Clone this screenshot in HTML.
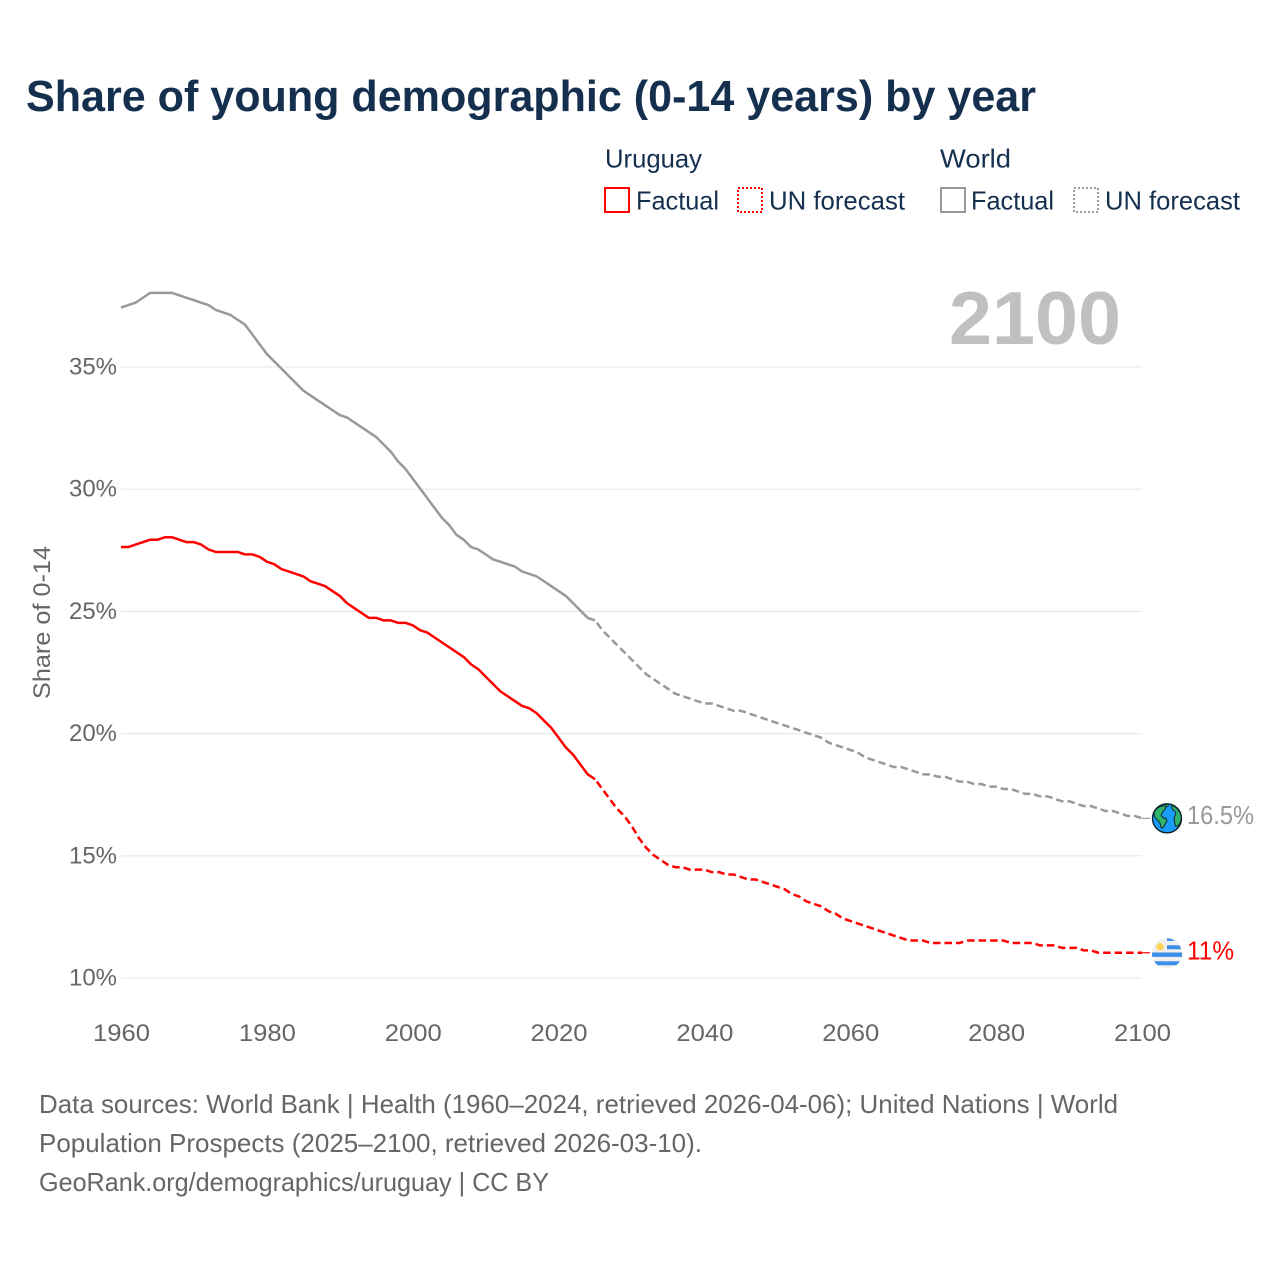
<!DOCTYPE html>
<html lang="en">
<head>
<meta charset="utf-8">
<title>Share of young demographic (0-14 years) by year</title>
<style>
  html, body { margin: 0; padding: 0; background: #fff; }
  #chart { display: block; width: 1280px; height: 1280px; font-family: "Liberation Sans", sans-serif; }
</style>
</head>
<body>
<svg id="chart" xmlns="http://www.w3.org/2000/svg" width="1280" height="1280" viewBox="0 0 1280 1280">
  <rect x="0" y="0" width="1280" height="1280" fill="#ffffff"/>
  <text x="26" y="111" font-size="44" font-weight="700" fill="#15304f" textLength="1010" lengthAdjust="spacingAndGlyphs">Share of young demographic (0-14 years) by year</text>

  <g font-size="26" fill="#15304f">
    <text x="605" y="167.5" textLength="97" lengthAdjust="spacingAndGlyphs">Uruguay</text>
    <text x="940" y="167.5" textLength="71" lengthAdjust="spacingAndGlyphs">World</text>
    <rect x="605" y="188" width="24" height="24" fill="none" stroke="#ff0000" stroke-width="2"/>
    <text x="636" y="209.5" textLength="83" lengthAdjust="spacingAndGlyphs">Factual</text>
    <rect x="738" y="188" width="24" height="24" fill="none" stroke="#ff0000" stroke-width="2" stroke-dasharray="2 2"/>
    <text x="769" y="209.5" textLength="136" lengthAdjust="spacingAndGlyphs">UN forecast</text>
    <rect x="941" y="188" width="24" height="24" fill="none" stroke="#999999" stroke-width="2"/>
    <text x="971" y="209.5" textLength="83" lengthAdjust="spacingAndGlyphs">Factual</text>
    <rect x="1074" y="188" width="24" height="24" fill="none" stroke="#999999" stroke-width="2" stroke-dasharray="2 2"/>
    <text x="1105" y="209.5" textLength="135" lengthAdjust="spacingAndGlyphs">UN forecast</text>
  </g>

  <text x="949" y="344" font-size="75" font-weight="700" fill="#c0c0c0" textLength="172" lengthAdjust="spacingAndGlyphs">2100</text>
  <text transform="translate(50 622.5) rotate(-90)" text-anchor="middle" font-size="24" fill="#666666" textLength="153" lengthAdjust="spacingAndGlyphs">Share of 0-14</text>

  <g id="grid"></g>
  <g id="yticks"></g>
  <g id="xticks"></g>
  <g id="series" transform="translate(0 -0.8)"></g>

  <g id="world-icon">
    <circle cx="0" cy="0" r="14.5" fill="#1a9cfa" stroke="#10242e" stroke-width="1.4"/>
    <path d="M-12.5 -7 C-8 -13 -3 -13 -1 -12 C-1 -9 -4 -8 -5 -5 C-7 -3 -5 -1 -2 0 C1 1 0 3 -2 6 C-3 9 -5 11 -6 9 C-6 4 -10 2 -12 -1 C-13 -3 -13 -5 -12.5 -7 Z" fill="#2eb56a" stroke="#10242e" stroke-width="1"/>
    <path d="M5 -13 C10 -11 13.5 -6 14.2 -2 C14.5 3 12 8 9 8 C7 6 8 2 7 0 C8 -3 10 -5 8 -7 C6 -8 4 -10 5 -13 Z" fill="#2eb56a" stroke="#10242e" stroke-width="1"/>
    <path d="M-2 -14 C1 -14.5 2 -13 1 -12 C0 -11 -2 -12 -2 -14 Z" fill="#2eb56a" stroke="#10242e" stroke-width="0.8"/>
  </g>

  <g id="flag-icon">
    <circle cx="0" cy="0" r="15" fill="#f0f0f0"/>
    <path d="M0 -15 A15 15 0 0 1 8.5 -12.4 L0 -12.4 Z" fill="#3b8fe8"/>
    <path d="M0 -8 H12.4 A15 15 0 0 1 14 -4 H0 Z" fill="#3b8fe8"/>
    <path d="M-15 -0.8 H15 V3.6 H-15 Z" fill="#3b8fe8"/>
    <path d="M-12.8 8 H12.8 A15 15 0 0 1 9.4 12 H-9.4 A15 15 0 0 1 -12.8 8 Z" fill="#3b8fe8"/>
    <circle cx="-7" cy="-6.5" r="3.8" fill="#ffd35c"/>
  </g>

  <text id="world-value" x="1187" y="824" font-size="26" fill="#999999" textLength="67" lengthAdjust="spacingAndGlyphs"></text>
  <text id="uruguay-value" x="1187" y="960" font-size="26" fill="#ff0000" textLength="47" lengthAdjust="spacingAndGlyphs"></text>

  <g font-size="26" fill="#666666">
    <text x="39" y="1113" textLength="1079" lengthAdjust="spacingAndGlyphs">Data sources: World Bank | Health (1960–2024, retrieved 2026-04-06); United Nations | World</text>
    <text x="39" y="1152" textLength="663" lengthAdjust="spacingAndGlyphs">Population Prospects (2025–2100, retrieved 2026-03-10).</text>
    <text x="39" y="1191" textLength="510" lengthAdjust="spacingAndGlyphs">GeoRank.org/demographics/uruguay | CC BY</text>
  </g>
</svg>
<script>
const factualStartYear = 1960;
const forecastStartYear = 2025;
const xTickYears = [1960, 1980, 2000, 2020, 2040, 2060, 2080, 2100];
const yTickValues = [10, 15, 20, 25, 30, 35];

const uruguayFactual = [
  27.6, 27.6, 27.7, 27.8, 27.9, 27.9, 28.0, 28.0, 27.9, 27.8,
  27.8, 27.7, 27.5, 27.4, 27.4, 27.4, 27.4, 27.3, 27.3, 27.2,
  27.0, 26.9, 26.7, 26.6, 26.5, 26.4, 26.2, 26.1, 26.0, 25.8,
  25.6, 25.3, 25.1, 24.9, 24.7, 24.7, 24.6, 24.6, 24.5, 24.5,
  24.4, 24.2, 24.1, 23.9, 23.7, 23.5, 23.3, 23.1, 22.8, 22.6,
  22.3, 22.0, 21.7, 21.5, 21.3, 21.1, 21.0, 20.8, 20.5, 20.2,
  19.8, 19.4, 19.1, 18.7, 18.3, 18.1
];
const uruguayForecast = [
  18.1, 17.7, 17.3, 16.9, 16.6, 16.2, 15.7, 15.3, 15.0, 14.8,
  14.6, 14.5, 14.5, 14.4, 14.4, 14.4, 14.3, 14.3, 14.2, 14.2,
  14.1, 14.0, 14.0, 13.9, 13.8, 13.7, 13.6, 13.4, 13.3, 13.1,
  13.0, 12.9, 12.7, 12.6, 12.4, 12.3, 12.2, 12.1, 12.0, 11.9,
  11.8, 11.7, 11.6, 11.5, 11.5, 11.5, 11.4, 11.4, 11.4, 11.4,
  11.4, 11.5, 11.5, 11.5, 11.5, 11.5, 11.5, 11.4, 11.4, 11.4,
  11.4, 11.3, 11.3, 11.3, 11.2, 11.2, 11.2, 11.1, 11.1, 11.0,
  11.0, 11.0, 11.0, 11.0, 11.0, 11.0
];
const worldFactual = [
  37.4, 37.5, 37.6, 37.8, 38.0, 38.0, 38.0, 38.0, 37.9, 37.8,
  37.7, 37.6, 37.5, 37.3, 37.2, 37.1, 36.9, 36.7, 36.3, 35.9,
  35.5, 35.2, 34.9, 34.6, 34.3, 34.0, 33.8, 33.6, 33.4, 33.2,
  33.0, 32.9, 32.7, 32.5, 32.3, 32.1, 31.8, 31.5, 31.1, 30.8,
  30.4, 30.0, 29.6, 29.2, 28.8, 28.5, 28.1, 27.9, 27.6, 27.5,
  27.3, 27.1, 27.0, 26.9, 26.8, 26.6, 26.5, 26.4, 26.2, 26.0,
  25.8, 25.6, 25.3, 25.0, 24.7, 24.6
];
const worldForecast = [
  24.6, 24.2, 23.9, 23.6, 23.3, 23.0, 22.7, 22.4, 22.2, 22.0,
  21.8, 21.6, 21.5, 21.4, 21.3, 21.2, 21.2, 21.1, 21.0, 20.9,
  20.9, 20.8, 20.7, 20.6, 20.5, 20.4, 20.3, 20.2, 20.1, 20.0,
  19.9, 19.8, 19.6, 19.5, 19.4, 19.3, 19.2, 19.0, 18.9, 18.8,
  18.7, 18.6, 18.6, 18.5, 18.4, 18.3, 18.3, 18.2, 18.2, 18.1,
  18.0, 18.0, 17.9, 17.9, 17.8, 17.8, 17.7, 17.7, 17.6, 17.5,
  17.5, 17.4, 17.4, 17.3, 17.2, 17.2, 17.1, 17.0, 17.0, 16.9,
  16.8, 16.8, 16.7, 16.6, 16.6, 16.5
];

const SVG_NS = 'http://www.w3.org/2000/svg';
const xScale = year => 121 + (year - 1960) * (1142 - 121) / 140;
const yScale = value => 978 - (value - 10) * (978 - 367) / 25;

function make(parentId, tag, attrs) {
  const el = document.createElementNS(SVG_NS, tag);
  Object.keys(attrs).forEach(k => el.setAttribute(k, attrs[k]));
  document.getElementById(parentId).appendChild(el);
  return el;
}

yTickValues.forEach(v => {
  const line = make('grid', 'line', { x1: xScale(1960), x2: xScale(2100), y1: yScale(v), y2: yScale(v), stroke: '#e9e9e9', 'stroke-width': 1.2 });
  
  
  const label = make('yticks', 'text', { x: 117, y: yScale(v) + 7.5, 'text-anchor': 'end', 'font-size': 24, fill: '#666666', textLength: 48, lengthAdjust: 'spacingAndGlyphs' });
  label.textContent = v + '%';
  
  
});

xTickYears.forEach(year => {
  const label = make('xticks', 'text', { x: xScale(year) + 0.5, y: 1041, 'text-anchor': 'middle', 'font-size': 24, fill: '#666666', textLength: 57, lengthAdjust: 'spacingAndGlyphs' });
  label.textContent = String(year);
  
  
});

function pathFrom(values, startYear) {
  return values.map((v, i) => (i ? 'L' : 'M') + xScale(startYear + i).toFixed(2) + ' ' + yScale(v).toFixed(2)).join(' ');
}

function drawLine(values, startYear, color, dash) {
  const attrs = { d: pathFrom(values, startYear), fill: 'none', stroke: color, 'stroke-width': 2.5, 'stroke-linejoin': 'round' };
  if (dash) { attrs['stroke-dasharray'] = '7.5 4'; attrs['stroke-dashoffset'] = '-3'; }
  return make('series', 'path', attrs);
}

const worldFactualLine = drawLine(worldFactual, factualStartYear, '#999999', false);


const worldForecastLine = drawLine(worldForecast, forecastStartYear, '#999999', true);


const uruguayFactualLine = drawLine(uruguayFactual, factualStartYear, '#ff0000', false);


const uruguayForecastLine = drawLine(uruguayForecast, forecastStartYear, '#ff0000', true);



const worldLast = worldForecast[worldForecast.length - 1];
const uruguayLast = uruguayForecast[uruguayForecast.length - 1];

const worldConnector = make('series', 'line', { x1: xScale(2100), x2: xScale(2100) + 8, y1: yScale(worldLast), y2: yScale(worldLast), stroke: '#999999', 'stroke-width': 1.2 });


const uruguayConnector = make('series', 'line', { x1: xScale(2100), x2: xScale(2100) + 8, y1: yScale(uruguayLast), y2: yScale(uruguayLast), stroke: '#ff0000', 'stroke-width': 1.2 });



document.getElementById('world-icon').setAttribute('transform', 'translate(1167 ' + (yScale(worldLast) - 0.8).toFixed(2) + ')');
document.getElementById('flag-icon').setAttribute('transform', 'translate(1167 ' + (yScale(uruguayLast) - 0.3).toFixed(2) + ')');

const worldValue = document.getElementById('world-value');
worldValue.textContent = worldLast + '%';
worldValue.setAttribute('y', (yScale(worldLast) + 5).toFixed(2));
const uruguayValue = document.getElementById('uruguay-value');
uruguayValue.textContent = uruguayLast + '%';
uruguayValue.setAttribute('y', (yScale(uruguayLast) + 6).toFixed(2));
</script>
</body>
</html>
